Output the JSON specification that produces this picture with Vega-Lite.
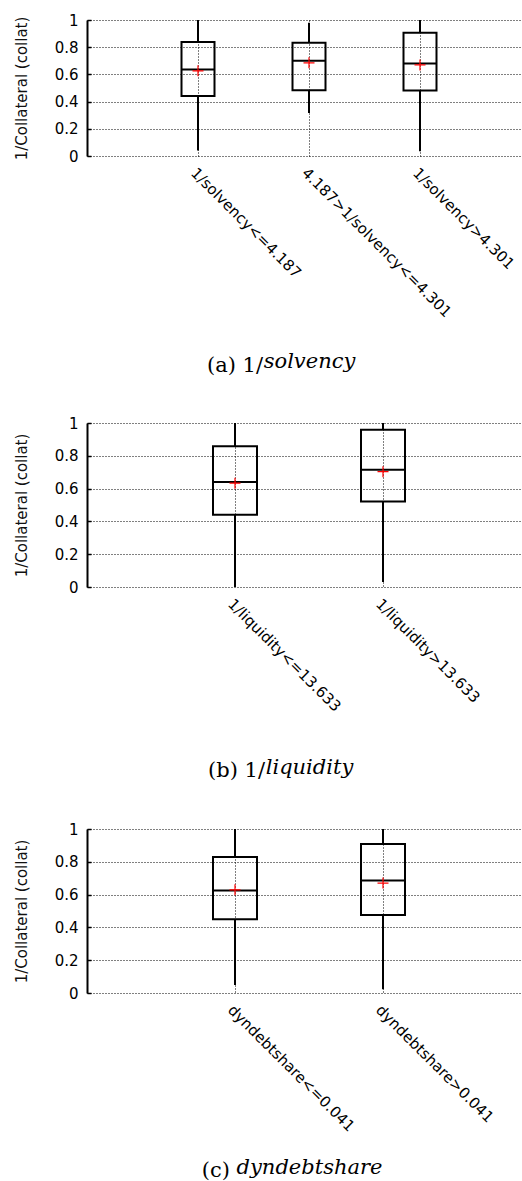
{
  "$schema": "https://vega.github.io/schema/vega-lite/v6.json",
  "background": "white",
  "padding": {"top": 13, "left": 14, "right": 0, "bottom": 0},
  "datasets": {
    "solvency": [
      {"group": "1/solvency<=4.187", "lo": 0.04, "q1": 0.441, "median": 0.636, "q3": 0.838, "hi": 1.0, "mean": 0.626},
      {"group": "4.187>1/solvency<=4.301", "lo": 0.316, "q1": 0.483, "median": 0.7, "q3": 0.832, "hi": 0.98, "mean": 0.685},
      {"group": "1/solvency>4.301", "lo": 0.035, "q1": 0.481, "median": 0.68, "q3": 0.906, "hi": 1.0, "mean": 0.67}
    ],
    "liquidity": [
      {"group": "1/liquidity<=13.633", "lo": 0.0, "q1": 0.44, "median": 0.641, "q3": 0.858, "hi": 1.0, "mean": 0.633},
      {"group": "1/liquidity>13.633", "lo": 0.03, "q1": 0.522, "median": 0.715, "q3": 0.959, "hi": 1.0, "mean": 0.703}
    ],
    "dyndebtshare": [
      {"group": "dyndebtshare<=0.041", "lo": 0.049, "q1": 0.45, "median": 0.625, "q3": 0.83, "hi": 1.0, "mean": 0.629},
      {"group": "dyndebtshare>0.041", "lo": 0.023, "q1": 0.475, "median": 0.686, "q3": 0.908, "hi": 1.0, "mean": 0.67}
    ]
  },
  "spacing": 40,
  "vconcat": [
    {
      "width": 444,
      "height": 136,
      "data": {"name": "solvency"},
      "title": {"text": "(a) 1/", "align": "right", "dx": -46},
      "encoding": {
        "x": {"field": "group", "type": "nominal", "sort": null, "scale": {"type": "point", "padding": 1},
              "axis": {"title": "solvency", "titlePadding": 31}}
      },
      "layer": [
        {"mark": {"type": "rule", "strokeWidth": 2, "color": "black"},
         "encoding": {"y": {"field": "lo", "type": "quantitative", "title": "1/Collateral (collat)", "scale": {"domain": [0, 1]}}, "y2": {"field": "q1"}}},
        {"mark": {"type": "rule", "strokeWidth": 2, "color": "black"},
         "encoding": {"y": {"field": "q3", "type": "quantitative", "title": "1/Collateral (collat)"}, "y2": {"field": "hi"}}},
        {"mark": {"type": "bar", "size": 33, "fillOpacity": 0, "stroke": "black", "strokeWidth": 2},
         "encoding": {"y": {"field": "q1", "type": "quantitative", "title": "1/Collateral (collat)"}, "y2": {"field": "q3"}}},
        {"mark": {"type": "tick", "size": 33, "thickness": 2, "color": "black", "opacity": 1},
         "encoding": {"y": {"field": "median", "type": "quantitative", "title": "1/Collateral (collat)"}}},
        {"mark": {"type": "point", "shape": "M-1,0H1M0,-1V1", "size": 121, "filled": false, "stroke": "red", "strokeWidth": 1.2, "opacity": 1},
         "encoding": {"y": {"field": "mean", "type": "quantitative", "title": "1/Collateral (collat)"}}}
      ]
    },
    {
      "width": 444,
      "height": 164,
      "data": {"name": "liquidity"},
      "title": {"text": "(b) 1/", "align": "right", "dx": -44},
      "encoding": {
        "x": {"field": "group", "type": "nominal", "sort": null, "scale": {"type": "point", "padding": 1},
              "axis": {"title": "liquidity", "titlePadding": 42}}
      },
      "layer": [
        {"mark": {"type": "rule", "strokeWidth": 2, "color": "black"},
         "encoding": {"y": {"field": "lo", "type": "quantitative", "title": "1/Collateral (collat)", "scale": {"domain": [0, 1]}}, "y2": {"field": "q1"}}},
        {"mark": {"type": "rule", "strokeWidth": 2, "color": "black"},
         "encoding": {"y": {"field": "q3", "type": "quantitative", "title": "1/Collateral (collat)"}, "y2": {"field": "hi"}}},
        {"mark": {"type": "bar", "size": 44, "fillOpacity": 0, "stroke": "black", "strokeWidth": 2},
         "encoding": {"y": {"field": "q1", "type": "quantitative", "title": "1/Collateral (collat)"}, "y2": {"field": "q3"}}},
        {"mark": {"type": "tick", "size": 44, "thickness": 2, "color": "black", "opacity": 1},
         "encoding": {"y": {"field": "median", "type": "quantitative", "title": "1/Collateral (collat)"}}},
        {"mark": {"type": "point", "shape": "M-1,0H1M0,-1V1", "size": 121, "filled": false, "stroke": "red", "strokeWidth": 1.2, "opacity": 1},
         "encoding": {"y": {"field": "mean", "type": "quantitative", "title": "1/Collateral (collat)"}}}
      ]
    },
    {
      "width": 444,
      "height": 164,
      "data": {"name": "dyndebtshare"},
      "title": {"text": "(c)", "align": "right", "dx": -79},
      "encoding": {
        "x": {"field": "group", "type": "nominal", "sort": null, "scale": {"type": "point", "padding": 1},
              "axis": {"title": "dyndebtshare", "titlePadding": 22}}
      },
      "layer": [
        {"mark": {"type": "rule", "strokeWidth": 2, "color": "black"},
         "encoding": {"y": {"field": "lo", "type": "quantitative", "title": "1/Collateral (collat)", "scale": {"domain": [0, 1]}}, "y2": {"field": "q1"}}},
        {"mark": {"type": "rule", "strokeWidth": 2, "color": "black"},
         "encoding": {"y": {"field": "q3", "type": "quantitative", "title": "1/Collateral (collat)"}, "y2": {"field": "hi"}}},
        {"mark": {"type": "bar", "size": 44, "fillOpacity": 0, "stroke": "black", "strokeWidth": 2},
         "encoding": {"y": {"field": "q1", "type": "quantitative", "title": "1/Collateral (collat)"}, "y2": {"field": "q3"}}},
        {"mark": {"type": "tick", "size": 44, "thickness": 2, "color": "black", "opacity": 1},
         "encoding": {"y": {"field": "median", "type": "quantitative", "title": "1/Collateral (collat)"}}},
        {"mark": {"type": "point", "shape": "M-1,0H1M0,-1V1", "size": 121, "filled": false, "stroke": "red", "strokeWidth": 1.2, "opacity": 1},
         "encoding": {"y": {"field": "mean", "type": "quantitative", "title": "1/Collateral (collat)"}}}
      ]
    }
  ],
  "config": {
    "view": {"stroke": null},
    "title": {"orient": "bottom", "anchor": "middle", "frame": "group", "baseline": "top",
              "font": "DejaVu Serif", "fontSize": 21, "fontWeight": "normal", "color": "#000", "offset": 0, "dy": -21},
    "axis": {
      "labelFont": "DejaVu Sans", "labelFontSize": 15, "labelColor": "#000",
      "titleFont": "DejaVu Sans", "titleFontSize": 15, "titleFontWeight": "normal", "titleColor": "#111",
      "grid": true, "gridColor": "#000", "gridDash": [1, 2], "gridWidth": 1, "gridOpacity": 1
    },
    "axisX": {
      "domain": false, "ticks": false, "labelAngle": 45, "labelPadding": 9, "labelLimit": 400, "labelOverlap": false,
      "titleFont": "DejaVu Serif", "titleFontSize": 21, "titleFontStyle": "italic", "titleColor": "#000"
    },
    "axisY": {
      "values": [0, 0.2, 0.4, 0.6, 0.8, 1], "format": "~g",
      "domain": true, "domainColor": "#000", "domainWidth": 2,
      "ticks": true, "tickColor": "#000", "tickWidth": 1.5, "tickSize": -4, "labelPadding": 13,
      "titlePadding": 25
    }
  }
}
